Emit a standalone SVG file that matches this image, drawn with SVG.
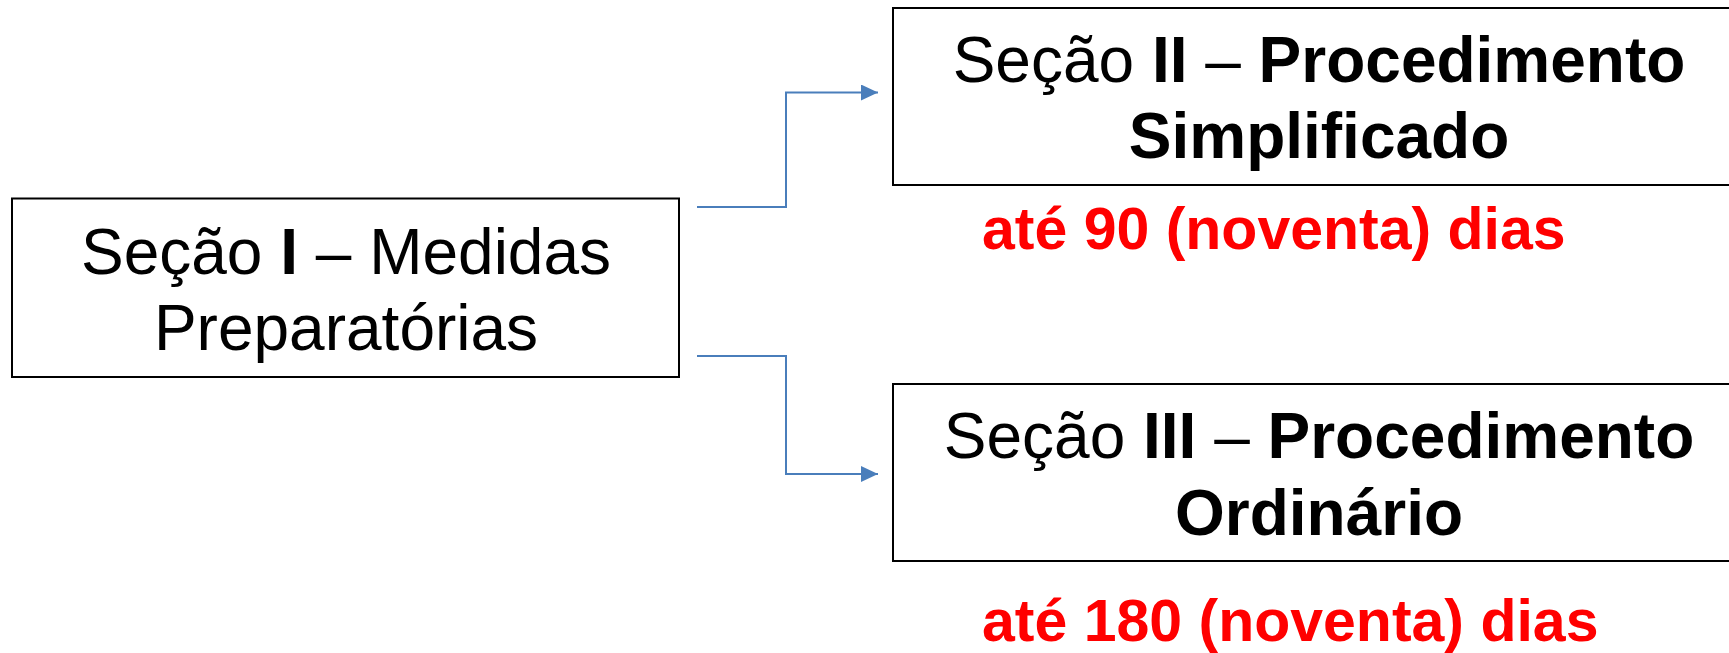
<svg xmlns="http://www.w3.org/2000/svg" width="1729" height="653" viewBox="0 0 1729 653">
<style>
.box{fill:#fff;stroke:#000;stroke-width:2}
.t{font-family:"Liberation Sans",Arial,sans-serif;font-size:64px;fill:#000;text-anchor:middle}
.b{font-weight:bold}
.red{font-family:"Liberation Sans",Arial,sans-serif;font-size:59px;font-weight:bold;fill:#FF0000}
.conn{fill:none;stroke:#4A7EBB;stroke-width:2}
</style>
<defs>
<marker id="arr" markerUnits="userSpaceOnUse" markerWidth="18" markerHeight="16" refX="17" refY="8" orient="auto">
<path d="M0,0 L17,8 L0,16 Z" fill="#4A7EBB"/>
</marker>
</defs>
<rect width="1729" height="653" fill="#fff"/>
<g id="connectors">
<path class="conn" d="M697,207 H786 V92.5 H878" marker-end="url(#arr)"/>
<path class="conn" d="M697,356 H786 V474 H878" marker-end="url(#arr)"/>
</g>
<g id="node-secao1">
<rect class="box" x="12" y="198.5" width="667" height="178.5"/>
<text class="t" x="346" y="273.5">Seção <tspan class="b">I</tspan> – Medidas</text>
<text class="t" x="346" y="350">Preparatórias</text>
</g>
<g id="node-secao2">
<rect class="box" x="893" y="8" width="860" height="177"/>
<text class="t" x="1319" y="82">Seção <tspan class="b">II</tspan> – <tspan class="b">Procedimento</tspan></text>
<text class="t b" x="1319" y="158">Simplificado</text>
</g>
<g id="node-secao3">
<rect class="box" x="893" y="384" width="860" height="177"/>
<text class="t" x="1319" y="458">Seção <tspan class="b">III</tspan> – <tspan class="b">Procedimento</tspan></text>
<text class="t b" x="1319" y="535">Ordinário</text>
</g>
<g id="label-90">
<text class="red" x="982" y="248.5">até 90 (noventa) dias</text>
</g>
<g id="label-180">
<text class="red" x="982" y="641">até 180 (noventa) dias</text>
</g>
</svg>
